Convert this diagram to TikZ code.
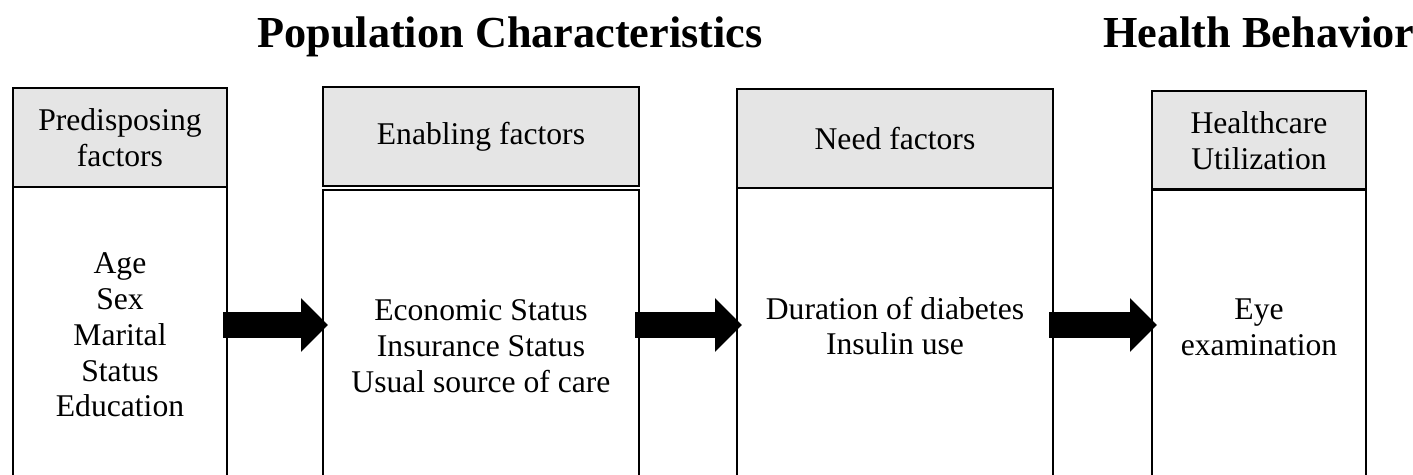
\documentclass[tikz,border=0pt]{standalone}
\usepackage{fontspec}
\setmainfont{Liberation Serif}
\usetikzlibrary{arrows.meta}

\begin{document}
\begin{tikzpicture}[x=0.02cm, y=-0.02cm,
	hdr/.style={draw, line width=1.1pt, fill=black!10, inner sep=0pt, outer sep=0pt, minimum height=1.98cm, align=center, font=\fontsize{18}{20.4}\selectfont},
	body/.style={draw, line width=1.1pt, inner sep=0pt, outer sep=0pt, minimum height=7cm},
	narrow/.style={minimum width=4.28cm},
	wide/.style={minimum width=6.32cm},
	txt/.style={align=center, font=\fontsize{18}{20.4}\selectfont},
	ttl/.style={font=\fontsize{25.2}{30}\selectfont\bfseries},
	bigarrow/.style={line width=15.2pt, -{Triangle[length=15.3pt, width=30.6pt, line width=0pt]}, shorten <=-2pt, shorten >=-2.8pt}]
	\useasboundingbox (0,0) rectangle (1413,474);
	\clip (0,0) rectangle (1413,474);
	% titles
	\node[ttl, anchor=base] (pc) at (510,47) {Population Characteristics};
	\node[ttl, anchor=base] (hb) at (1259,47) {Health Behavior};
	% column headers
	\node[hdr, narrow, anchor=north west] (h1) at (13,88) {Predisposing\\factors};
	\node[hdr, wide, anchor=north west] (h2) at (323,87) {Enabling factors};
	\node[hdr, wide, anchor=north west] (h3) at (737,89) {Need factors};
	\node[hdr, narrow, anchor=north west] (h4) at (1152,91) {Healthcare\\Utilization};
	% column bodies (open at the bottom of the page)
	\node[body, narrow, anchor=north west] (b1) at (13,187) {};
	\node[body, wide, anchor=north west] (b2) at (323,190) {};
	\node[body, wide, anchor=north west] (b3) at (737,188) {};
	\node[body, narrow, anchor=north west] (b4) at (1152,189) {};
	\node[txt] (t1) at (120,335) {Age\\Sex\\Marital\\Status\\Education};
	\node[txt] (t2) at (481,346) {Economic Status\\Insurance Status\\Usual source of care};
	\node[txt] (t3) at (895,326) {Duration of diabetes\\Insulin use};
	\node[txt] (t4) at (1259,327) {Eye\\examination};
	% block arrows
	\draw[bigarrow] (b1.east |- 0,325) -- (b2.west |- 0,325);
	\draw[bigarrow] (b2.east |- 0,325) -- (b3.west |- 0,325);
	\draw[bigarrow] (b3.east |- 0,325) -- (b4.west |- 0,325);
\end{tikzpicture}
\end{document}
